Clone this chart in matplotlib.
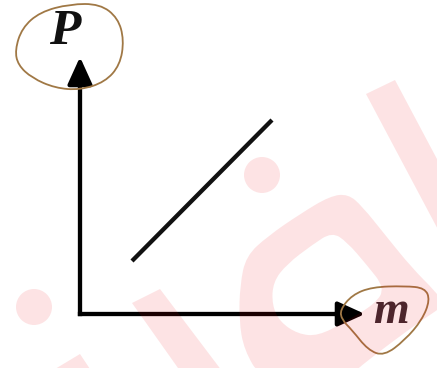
import numpy as np
import matplotlib
matplotlib.use("Agg")
import matplotlib.pyplot as plt
from matplotlib.path import Path
from matplotlib.patches import PathPatch, Circle

# ---- data (diagram values) ----
m_values = [52, 192]        # line segment, m coordinate
p_values = [53, 194]        # line segment, P coordinate
m_axis_end = 285
p_axis_end = 257
x_label = "m"
y_label = "P"

W, H, DPI = 437, 368, 100
fig = plt.figure(figsize=(W / DPI, H / DPI), dpi=DPI)
ax = fig.add_axes([0, 0, 1, 1])
ax.set_xlim(-80, W - 80)
ax.set_ylim(-(H - 314), 314)
ax.axis("off")

# overlay axes in pixel space for decorations (loops, watermark)
ov = fig.add_axes([0, 0, 1, 1], zorder=5)
ov.set_xlim(0, W)
ov.set_ylim(H, 0)
ov.axis("off")
ov.patch.set_alpha(0)

# axes lines with arrows
lw = 3.1
ax.plot([0, 0], [0, p_axis_end - 15], color="black", lw=lw, solid_capstyle="projecting")
ax.plot([0, m_axis_end - 15], [0, 0], color="black", lw=lw, solid_capstyle="projecting")
arrow_kw = dict(arrowstyle="-|>,head_length=0.55,head_width=0.25", color="black",
                lw=lw, mutation_scale=30, shrinkA=0, shrinkB=0)
ax.annotate("", xy=(0, p_axis_end), xytext=(0, p_axis_end - 30), arrowprops=arrow_kw)
ax.annotate("", xy=(m_axis_end, 0), xytext=(m_axis_end - 30, 0), arrowprops=arrow_kw)

# the line
ax.plot(m_values, p_values, color="#111111", lw=lw, solid_capstyle="butt")

# labels
ax.text(-15, 282, y_label, fontsize=37, fontfamily="Liberation Serif",
        fontweight="bold", fontstyle="italic", ha="center", va="center", color="#111111")
ax.text(311, 2, x_label, fontsize=33, fontfamily="Liberation Serif",
        fontweight="bold", fontstyle="italic", ha="center", va="center", color="#3a2a30")


def smooth_closed(pts):
    pts = np.asarray(pts, float)
    n = len(pts)
    verts = [(pts[-1] + pts[0]) / 2]
    codes = [Path.MOVETO]
    for i in range(n):
        verts.append(pts[i])
        verts.append((pts[i] + pts[(i + 1) % n]) / 2)
        codes += [Path.CURVE3, Path.CURVE3]
    return verts, codes


brown = "#a07845"
p_loop = [(15, 50), (22, 28), (40, 12), (70, 4), (100, 4), (118, 18), (124, 40),
          (120, 65), (105, 82), (80, 90), (55, 88), (32, 78), (18, 65)]
m_loop = [(340, 310), (352, 295), (372, 287), (405, 286), (425, 288), (430, 300),
          (422, 320), (405, 340), (384, 356), (368, 350), (352, 330), (342, 320)]
for loop in (p_loop, m_loop):
    v, c = smooth_closed(loop)
    ov.add_patch(PathPatch(Path(v, c), fill=False, edgecolor=brown, lw=1.3))

# watermark
wm_color = (0.93, 0.0, 0.05)
wm_alpha = 0.11
ov.add_patch(Circle((34, 307), 18, color=wm_color, alpha=wm_alpha, lw=0))
ov.add_patch(Circle((262, 175), 18, color=wm_color, alpha=wm_alpha, lw=0))
strips = [
    [(366, 94), (395, 80), (480, 240), (451, 254)],
    [(132, 303), (160, 289), (225, 375), (190, 385)],
    [(55, 369), (80, 354), (90, 369)],
]
for s in strips:
    ov.add_patch(plt.Polygon(s, closed=True, color=wm_color, alpha=wm_alpha, lw=0))

outer = [(262, 380), (244, 350), (239, 320), (240, 285), (246, 256), (268, 236), (300, 214),
         (330, 196), (348, 194), (362, 206), (386, 236), (412, 268), (436, 292), (445, 305),
         (425, 318), (392, 342), (362, 365), (345, 380)]
inner = [(272, 305), (273, 282), (287, 264), (312, 245), (332, 232), (347, 242), (366, 264),
         (385, 288), (375, 304), (345, 322), (318, 336), (298, 334), (280, 322)]
vo, co = smooth_closed(outer)
vi, ci = smooth_closed(inner[::-1])
ring = Path(vo + vi, co + ci)
ov.add_patch(PathPatch(ring, facecolor=wm_color, alpha=wm_alpha, lw=0))

fig.savefig("out.png", dpi=DPI)
